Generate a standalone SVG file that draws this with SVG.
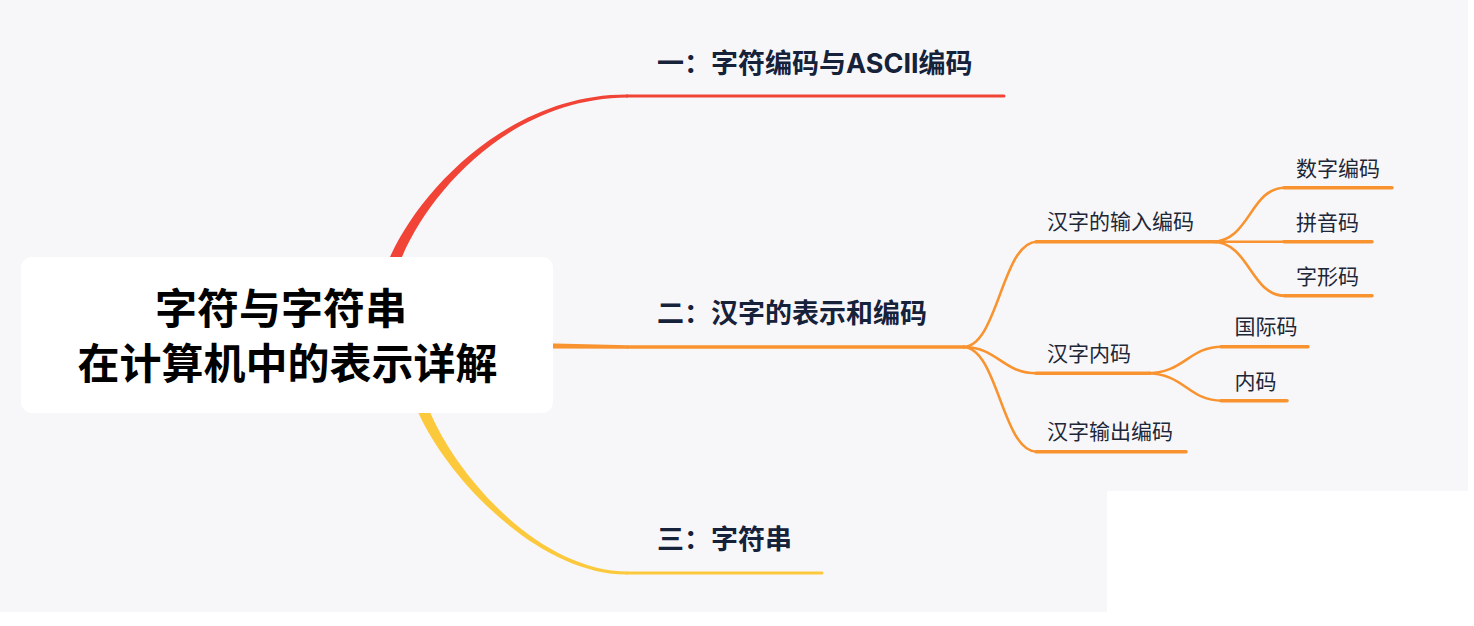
<svg xmlns="http://www.w3.org/2000/svg" width="1474" height="626" viewBox="0 0 1474 626">
<style>
.main{font-family:"Inter","Noto Sans CJK SC",sans-serif;font-weight:700;font-size:27px;fill:#16213a}
.sub{font-family:"Noto Sans CJK SC",sans-serif;font-weight:400;font-size:21px;fill:#1e2738}
.title{font-family:"Noto Sans CJK SC",sans-serif;font-weight:700;font-size:42px;fill:#000;text-anchor:middle}
.ol{fill:none;stroke:#f8932f;stroke-width:3.5;stroke-linecap:round}
.oc{fill:none;stroke:#f8932f;stroke-width:2.6}
</style>
<rect x="0" y="0" width="1474" height="626" fill="#ffffff"/>
<rect x="0" y="0" width="1468" height="612" fill="#f7f7f9"/>
<rect x="1107" y="491" width="361" height="121" fill="#ffffff"/>
<g id="connectors">
  <path d="M387.8,262.1 L391,254.8 C422.3,187.4 511,93.8 628,94.5 L628,97.5 C511,98.2 429.7,190.6 401,259.2 L397.8,266.5 Z" fill="#f14336"/>
  <line x1="627" y1="96" x2="1004" y2="96" stroke="#f14336" stroke-width="3" stroke-linecap="round"/>
  <path d="M545,343.2 L628,345.3 L628,348.7 L545,348.6 Z" fill="#f8932f"/>
  <line x1="627" y1="347" x2="965" y2="347" stroke="#f8932f" stroke-width="3.5"/>
  <path d="M425.8,402.5 L429,409.8 C457.7,478.4 540,570.8 628,571.5 L628,574.5 C540,575.2 450.3,481.6 419,414.2 L415.8,406.9 Z" fill="#fdc93c"/>
  <line x1="627" y1="573" x2="822" y2="573" stroke="#fdc93c" stroke-width="3" stroke-linecap="round"/>
  <path class="oc" d="M963,347 C998,347 1002,241.7 1037,241.7"/>
  <path class="oc" d="M963,347 C998,347 1002,373.3 1037,373.3"/>
  <path class="oc" d="M963,347 C998,347 1002,451.7 1037,451.7"/>
  <line class="ol" x1="1036" y1="241.7" x2="1217" y2="241.7"/>
  <line class="ol" x1="1036" y1="373.3" x2="1150" y2="373.3"/>
  <line class="ol" x1="1036" y1="451.7" x2="1186" y2="451.7"/>
  <path class="oc" d="M1212,241.7 C1250,241.7 1250,187.7 1285,187.7"/>
  <path class="oc" d="M1212,241.7 L1285,241.7"/>
  <path class="oc" d="M1212,241.7 C1250,241.7 1250,295.7 1285,295.7"/>
  <line class="ol" x1="1284" y1="187.7" x2="1392" y2="187.7"/>
  <line class="ol" x1="1284" y1="241.7" x2="1372" y2="241.7"/>
  <line class="ol" x1="1284" y1="295.7" x2="1372" y2="295.7"/>
  <path class="oc" d="M1146,373.3 C1185,373.3 1188,346.7 1222,346.7"/>
  <path class="oc" d="M1146,373.3 C1185,373.3 1188,400.7 1222,400.7"/>
  <line class="ol" x1="1221" y1="346.7" x2="1308" y2="346.7"/>
  <line class="ol" x1="1221" y1="400.7" x2="1287" y2="400.7"/>
</g>
<g id="root">
  <rect x="21" y="257" width="532" height="156" rx="11" fill="#ffffff"/>
  <text class="title" x="281" y="324">字符与字符串</text>
  <text class="title" x="287.5" y="378.5">在计算机中的表示详解</text>
</g>
<g id="n1"><text class="main" x="657" y="73">一：字符编码与ASCII编码</text></g>
<g id="n2"><text class="main" x="657" y="323">二：汉字的表示和编码</text></g>
<g id="n3"><text class="main" x="657" y="549">三：字符串</text></g>
<g id="n21"><text class="sub" x="1047" y="229">汉字的输入编码</text></g>
<g id="n211"><text class="sub" x="1296" y="175.5">数字编码</text></g>
<g id="n212"><text class="sub" x="1296" y="229.5">拼音码</text></g>
<g id="n213"><text class="sub" x="1296" y="283.5">字形码</text></g>
<g id="n22"><text class="sub" x="1047" y="361.3">汉字内码</text></g>
<g id="n221"><text class="sub" x="1234.5" y="334.3">国际码</text></g>
<g id="n222"><text class="sub" x="1234.5" y="388.8">内码</text></g>
<g id="n23"><text class="sub" x="1047" y="439.3">汉字输出编码</text></g>
</svg>
